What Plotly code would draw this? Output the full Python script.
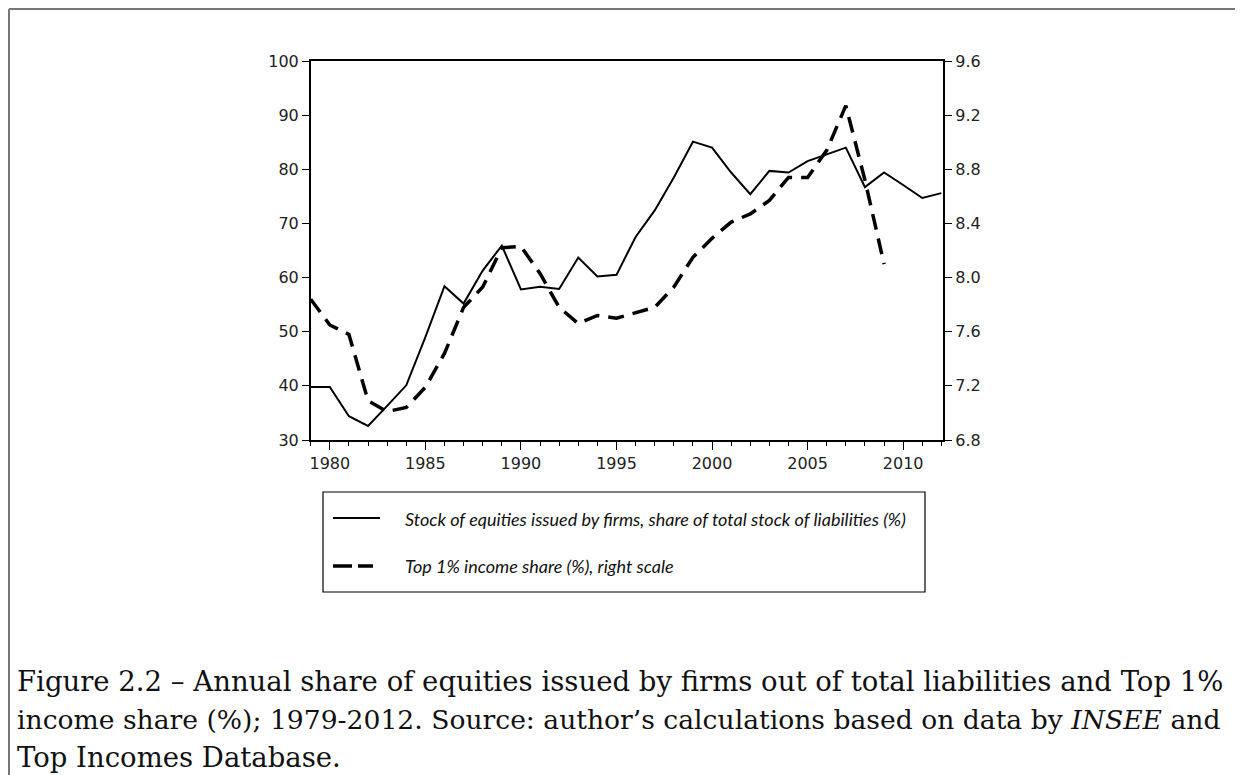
import plotly.graph_objects as go

years = list(range(1979, 2013))
equity_share = [39.8, 39.8, 34.4, 32.6, 36.3, 40.1, 49.0, 58.4, 55.2, 61.3,
                65.9, 57.8, 58.3, 57.9, 63.7, 60.2, 60.5, 67.5, 72.4, 78.5,
                85.1, 84.0, 79.4, 75.4, 79.7, 79.4, 81.5, 82.8, 84.0, 76.7,
                79.4, 77.1, 74.7, 75.6]
top1_years = list(range(1979, 2010))
top1_share = [7.84, 7.65, 7.58, 7.09, 7.01, 7.04, 7.19, 7.44, 7.78, 7.93,
              8.22, 8.23, 8.03, 7.78, 7.66, 7.72, 7.70, 7.74, 7.78, 7.93,
              8.15, 8.29, 8.41, 8.47, 8.57, 8.74, 8.74, 8.94, 9.27, 8.72,
              8.10]

legend_labels = ["Stock of equities issued by firms, share of total stock of liabilities (%)",
                 "Top 1% income share (%), right scale"]
caption_lines = ["Figure 2.2 – Annual share of equities issued by firms out of total liabilities and Top 1%",
                 "income share (%); 1979-2012. Source: author’s calculations based on data by <i>INSEE</i> and",
                 "Top Incomes Database."]

W, H = 1243, 775
OFF = 8  # page body margin
def px(x):
    return (x - OFF) / W
def py(y):
    return 1 - (y - OFF) / H

fig = go.Figure()
fig.add_trace(go.Scatter(x=years, y=equity_share, mode="lines",
                         line=dict(color="black", width=2), name=legend_labels[0],
                         showlegend=False))
fig.add_trace(go.Scatter(x=top1_years, y=top1_share, mode="lines", yaxis="y2",
                         line=dict(color="black", width=3.5, dash="16px,9px"),
                         name=legend_labels[1], showlegend=False))

tickfont = dict(family="DejaVu Sans", size=16, color="#222")
fig.update_layout(
    template="none",
    width=W, height=H,
    margin=dict(l=0, r=0, t=0, b=0, pad=0),
    paper_bgcolor="white", plot_bgcolor="white",
    xaxis=dict(domain=[px(310.7), px(943.3)], range=[1979, 2012.1], automargin=False,
               tick0=1980, dtick=5, ticks="outside", ticklen=8, tickwidth=1.3,
               tickcolor="black", showline=True, linecolor="black", linewidth=1.5,
               mirror=True, showgrid=False, zeroline=False, tickfont=tickfont,
               minor=dict(dtick=1, tick0=1979, ticks="outside", ticklen=4,
                          tickwidth=1.3, tickcolor="black", showgrid=False)),
    yaxis=dict(domain=[py(440), py(61)], range=[30, 100], dtick=10, automargin=False,
               ticks="outside", ticklen=7, tickwidth=1.3, tickcolor="black",
               showline=True, linecolor="black", linewidth=1.5,
               showgrid=False, zeroline=False, tickfont=tickfont),
    yaxis2=dict(overlaying="y", side="right", range=[6.8, 9.6], dtick=0.4,
                tick0=6.8, tickformat=".1f", automargin=False,
                ticks="outside", ticklen=7, tickwidth=1.3, tickcolor="black",
                showline=True, linecolor="black", linewidth=1.5,
                showgrid=False, zeroline=False, tickfont=tickfont),
    showlegend=False,
)

shapes = []
# page border (left, top, right)
border = dict(color="#777", width=2)
shapes.append(dict(type="line", xref="paper", yref="paper", x0=px(9), x1=px(9),
                   y0=py(9), y1=0, line=border))
shapes.append(dict(type="line", xref="paper", yref="paper", x0=px(9), x1=px(1240),
                   y0=py(9), y1=py(9), line=border))
shapes.append(dict(type="line", xref="paper", yref="paper", x0=px(1240), x1=px(1240),
                   y0=py(9), y1=0, line=border))
# legend box
shapes.append(dict(type="rect", xref="paper", yref="paper", x0=px(323), x1=px(925),
                   y0=py(592), y1=py(492), line=dict(color="black", width=1.2)))
shapes.append(dict(type="line", xref="paper", yref="paper", x0=px(333), x1=px(380),
                   y0=py(518), y1=py(518), line=dict(color="black", width=2)))
shapes.append(dict(type="line", xref="paper", yref="paper", x0=px(333), x1=px(373),
                   y0=py(566), y1=py(566),
                   line=dict(color="black", width=3.5, dash="19px,6px")))
fig.update_layout(shapes=shapes)

legfont = dict(family="Lato", size=18, color="#111")
annotations = [
    dict(text="<i>" + legend_labels[0] + "</i>", xref="paper", yref="paper",
         x=px(403), y=py(519), xanchor="left", yanchor="middle", showarrow=False,
         font=legfont),
    dict(text="<i>" + legend_labels[1] + "</i>", xref="paper", yref="paper",
         x=px(403), y=py(566), xanchor="left", yanchor="middle", showarrow=False,
         font=legfont),
]
for line_text, yc, fs in zip(caption_lines, [681, 719, 757], [27.5, 26.6, 27.5]):
    annotations.append(dict(text=line_text, xref="paper", yref="paper",
                            x=px(15), y=py(yc), xanchor="left", yanchor="middle",
                            align="left", showarrow=False,
                            font=dict(family="DejaVu Serif", size=fs, color="#111")))
fig.update_layout(annotations=annotations)

fig.write_html("out.html")
